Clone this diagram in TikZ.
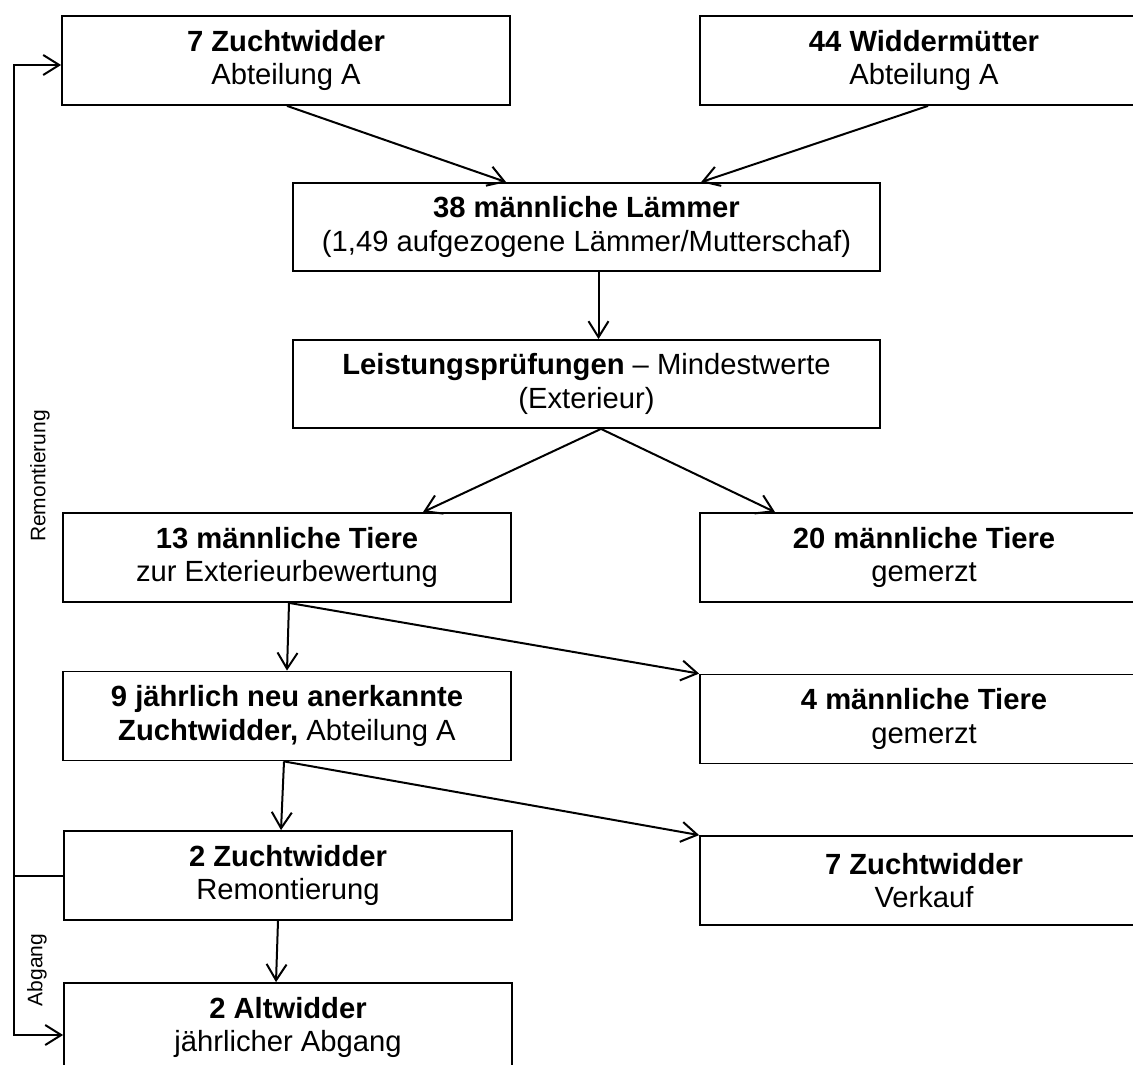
\documentclass[tikz,border=0pt]{standalone}
\usepackage{fontspec}
\setmainfont{Liberation Sans}
\usetikzlibrary{arrows.meta,calc}
\newcommand{\bxstrut}{\rule{0pt}{1.05em}}
\begin{document}
\begin{tikzpicture}[x=0.5pt,y=-0.5pt,
  box/.style={draw,line width=0.9pt,rectangle,minimum width=224pt,minimum height=44.5pt,inner sep=0pt,align=center,font=\fontsize{14.6pt}{16.7pt}\selectfont,execute at begin node=\bxstrut},
  wide/.style={box,minimum width=293.5pt,minimum height=44pt},
  conn/.style={line width=1pt,-{Straight Barb[length=8pt,width=10pt,line width=1pt]}},
  plain/.style={line width=1pt},
  side/.style={font=\fontsize{10.5pt}{12pt}\selectfont,rotate=90,inner sep=0pt}]
\useasboundingbox (0,0) rectangle (1133,1064);
% boxes
\node[box] (b1) at (286,60.5) {\textbf{7 Zuchtwidder}\\Abteilung A};
\node[box] (b2) at (924,60.5) {\textbf{44 Widdermütter}\\Abteilung A};
\node[wide] (b3) at (586.5,227) {\textbf{38 männliche Lämmer}\\(1,49 aufgezogene Lämmer/Mutterschaf)};
\node[wide] (b4) at (586.5,384) {\textbf{Leistungsprüfungen} – Mindestwerte\\(Exterieur)};
\node[box] (b13) at (287,557.5) {\textbf{13 männliche Tiere}\\zur Exterieurbewertung};
\node[box] (b20) at (924,557.5) {\textbf{20 männliche Tiere}\\gemerzt};
\node[box] (b9) at (287,716) {\textbf{9 jährlich neu anerkannte}\\\textbf{Zuchtwidder,} Abteilung A};
\node[box] (b4m) at (924,719) {\textbf{4 männliche Tiere}\\gemerzt};
\node[box] (rem) at (288,875.5) {\textbf{2 Zuchtwidder}\\Remontierung};
\node[box] (verk) at (924,880.5) {\textbf{7 Zuchtwidder}\\Verkauf};
\node[box] (alt) at (288,1027.5) {\textbf{2 Altwidder}\\jährlicher Abgang};
% side labels
\node[side] (lrem) at (40,476) {Remontierung};
\node[side] (labg) at (37,970) {Abgang};
% connectors
\draw[conn] ($(b1.south)+(1,0)$) -- ($(b3.north west)+(214,0)$);
\draw[conn] ($(b2.south)+(4,0)$) -- ($(b3.north west)+(409,0)$);
\draw[conn] ($(b3.south)+(12,0)$) -- ($(b4.north)+(12,0)$);
\draw[conn] ($(b4.south)+(14.5,0)$) -- ($(b13.north)+(136,0)$);
\draw[conn] ($(b4.south)+(14.5,0)$) -- ($(b20.north)+(-149,0)$);
\draw[conn] ($(b13.south)+(2,0)$) -- (b9.north);
\draw[conn] ($(b13.south)+(2,0)$) -- (b4m.north west);
\draw[conn] ($(b9.south)+(-3,0)$) -- ($(rem.north)+(-7,0)$);
\draw[conn] ($(b9.south)+(-3,0)$) -- (verk.north west);
\draw[conn] ($(rem.south)+(-10,0)$) -- ($(alt.north)+(-12,0)$);
% feedback loop
\coordinate (fbtop) at (14,65);
\coordinate (fbbot) at (14,1035);
\draw[plain] (rem.west) -- (fbtop |- rem.west);
\draw[line width=1pt,{Straight Barb[length=8pt,width=10pt,line width=1pt]}-{Straight Barb[length=8pt,width=10pt,line width=1pt]}]
  ($(b1.west)+(0,4.5)$) -- (fbtop) -- (fbbot) -- ($(alt.west)+(0,7.5)$);
\end{tikzpicture}
\end{document}
